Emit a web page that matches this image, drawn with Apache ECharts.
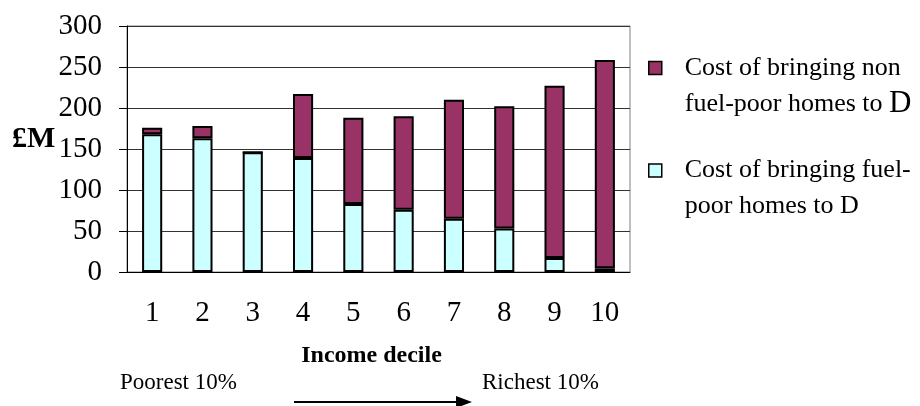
<!DOCTYPE html>
<html>
<head>
<meta charset="utf-8">
<script src="https://cdn.jsdelivr.net/npm/echarts@6/dist/echarts.min.js"></script>
<style>
html, body { margin: 0; padding: 0; background: #fff; }
#chart { width: 920px; height: 406px; }
</style>
</head>
<body>
<div id="chart"></div>
<script>
var deciles = ['1', '2', '3', '4', '5', '6', '7', '8', '9', '10'];
var fuelPoorCost = [168, 163, 146, 139, 83, 76, 65, 53, 17, 4.5];
var nonFuelPoorCost = [8, 15, 0, 78, 105, 114, 145, 149, 210, 254];
var yTicks = { min: 0, max: 300, step: 50 };

var nonName = 'Cost of bringing non fuel-poor homes to D';
var poorName = 'Cost of bringing fuel-poor homes to D';
var serif = 'Liberation Serif';

var chart = echarts.init(document.getElementById('chart'));

var option = {
    animation: false,
    backgroundColor: '#fff',
    grid: {
        left: 127,
        right: 290,
        top: 26,
        bottom: 134,
        show: true,
        borderColor: '#808080',
        borderWidth: 1
    },
    legend: {
        orient: 'vertical',
        left: 648,
        top: 55,
        padding: 0,
        itemGap: 38,
        itemWidth: 13,
        itemHeight: 13,
        icon: 'rect',
        data: [
            { name: nonName, itemStyle: { color: '#993366', borderColor: '#000', borderWidth: 1.5 } },
            { name: poorName, itemStyle: { color: '#CCFFFF', borderColor: '#000', borderWidth: 1.5 } }
        ],
        formatter: function (name) {
            if (name == nonName) {
                return '{t|Cost of bringing non}\n{t|fuel-poor homes to }{d|D}';
            }
            return '{t|Cost of bringing fuel-}\n{t|poor homes to D}';
        },
        textStyle: {
            padding: [36, 0, 0, 18],
            rich: {
                t: { fontFamily: serif, fontSize: 26, color: '#000', lineHeight: 36 },
                d: { fontFamily: serif, fontSize: 31, color: '#000', lineHeight: 36 }
            }
        }
    },
    xAxis: {
        type: 'category',
        data: deciles,
        name: 'Income decile',
        nameLocation: 'middle',
        nameGap: 72,
        nameTextStyle: {
            fontFamily: serif,
            fontWeight: 'bold',
            fontSize: 24,
            color: '#000',
            padding: [0, 14, 0, 0]
        },
        axisLine: { lineStyle: { color: '#000', width: 1 } },
        axisTick: { length: 8, lineStyle: { color: '#000' } },
        axisLabel: {
            margin: 27,
            fontFamily: serif,
            fontSize: 29,
            color: '#000'
        }
    },
    yAxis: {
        type: 'value',
        min: yTicks.min,
        max: yTicks.max,
        interval: yTicks.step,
        axisLine: { show: true, lineStyle: { color: '#000', width: 1 } },
        axisTick: { show: true, length: 8, lineStyle: { color: '#000' } },
        axisLabel: {
            margin: 25,
            fontFamily: serif,
            fontSize: 29,
            color: '#000'
        },
        splitLine: { lineStyle: { color: '#333', width: 1 } }
    },
    series: [
        {
            name: poorName,
            type: 'bar',
            stack: 'cost',
            barWidth: '40%',
            data: fuelPoorCost,
            itemStyle: {
                color: function (p) {
                    // last decile's segment is drawn lavender in the original
                    return p.dataIndex == fuelPoorCost.length - 1 ? '#9999FF' : '#CCFFFF';
                },
                borderColor: '#000',
                borderWidth: 2
            }
        },
        {
            name: nonName,
            type: 'bar',
            stack: 'cost',
            barWidth: '40%',
            data: nonFuelPoorCost,
            itemStyle: {
                color: '#993366',
                borderColor: '#000',
                borderWidth: 2
            }
        }
    ],
    graphic: [
        {
            type: 'text',
            left: 12,
            top: 124,
            style: { text: '£M', font: 'bold 30px "Liberation Serif"', fill: '#000' }
        },
        {
            type: 'text',
            left: 120,
            top: 371,
            style: { text: 'Poorest 10%', font: '23px "Liberation Serif"', fill: '#000' }
        },
        {
            type: 'text',
            left: 482,
            top: 371,
            style: { text: 'Richest 10%', font: '23px "Liberation Serif"', fill: '#000' }
        },
        {
            type: 'line',
            shape: { x1: 294, y1: 402, x2: 460, y2: 402 },
            style: { stroke: '#000', lineWidth: 2 }
        },
        {
            type: 'polygon',
            shape: { points: [[456, 396], [472, 402], [456, 408]] },
            style: { fill: '#000' }
        }
    ]
};

chart.setOption(option);
</script>
</body>
</html>
